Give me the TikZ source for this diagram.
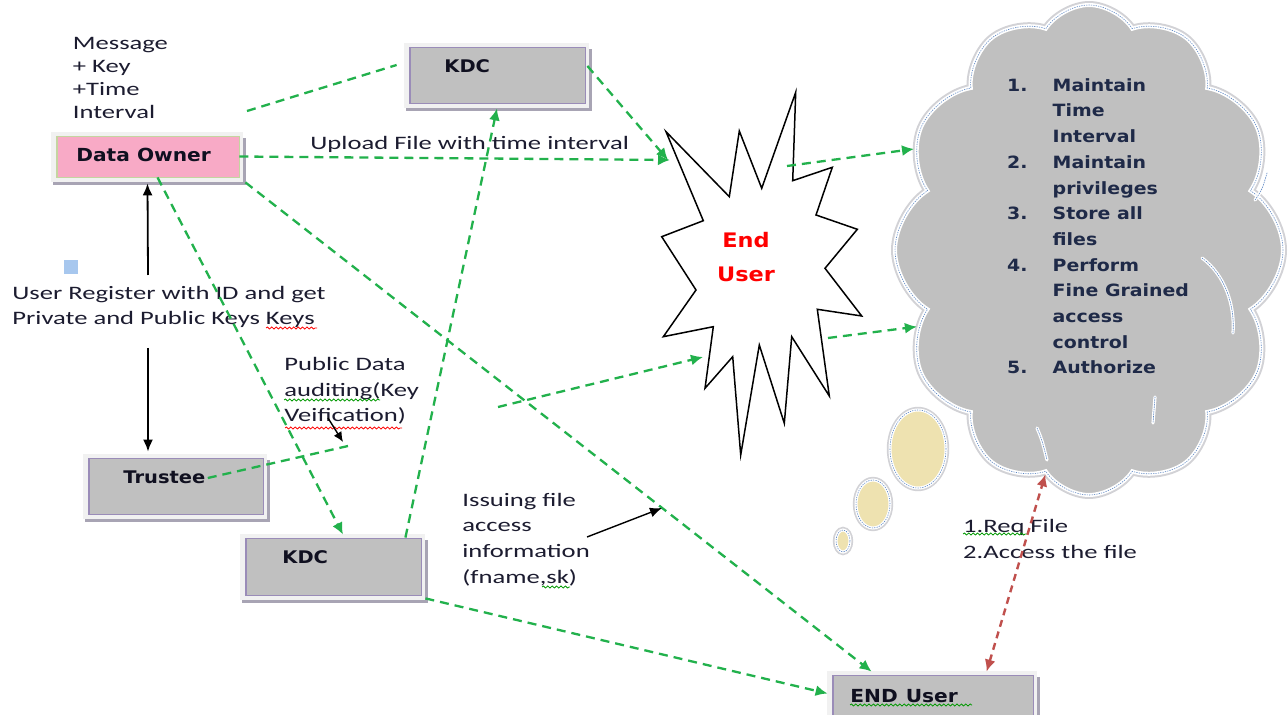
\documentclass[tikz,border=0pt]{standalone}
\usepackage{fontspec}
\setmainfont[FakeStretch=1.4]{Carlito}
\newfontfamily\vb[FakeStretch=1.12]{DejaVu Sans}
\usetikzlibrary{shapes.symbols,shapes.geometric,arrows.meta,fit,decorations.pathmorphing}
\definecolor{grn}{HTML}{22B14C}
\definecolor{redc}{HTML}{C0504D}
\definecolor{txtc}{HTML}{1C1C30}
\definecolor{labc}{HTML}{101020}
\definecolor{cltxt}{HTML}{1F2A48}
\definecolor{boxgray}{HTML}{C0C0C0}
\definecolor{pinkc}{HTML}{F8AAC6}
\definecolor{framec}{HTML}{F1F1F1}
\definecolor{shadowc}{HTML}{A8A4B4}
\definecolor{purpc}{HTML}{9A8CB8}
\definecolor{greenedge}{HTML}{C5D4A0}
\definecolor{beige}{HTML}{EEE2B0}
\definecolor{ringc}{HTML}{D2D2D6}
\definecolor{dotblue}{HTML}{5B86C4}
\definecolor{sqblue}{HTML}{A7C7EE}
\newcommand\kbox[7]{%
  \fill[shadowc] (#2-3,#3+2) rectangle (#4+7,#5+8);
  \fill[framec] (#2-5,#3-4) rectangle (#4+4,#5+5);
  \node[fit={(#2,#3)(#4,#5)}, inner sep=0, fill=#6, draw=#7, line width=0.4pt] (#1) {};
  \draw[#7, line width=0.9pt] (#2+0.8,#3) -- (#2+0.8,#5);
}
\newcommand\numbx[1]{\makebox[22.8pt][l]{#1}}
\tikzset{
  gline/.style={draw=grn, line width=1.15pt, dash pattern=on 4.5pt off 3pt},
  garrow/.style={gline, -{Latex[length=6pt,width=5.5pt]}},
  rarrow/.style={draw=redc, line width=1.2pt, dash pattern=on 3.5pt off 2.5pt, {Latex[length=6pt,width=5.5pt]}-{Latex[length=6pt,width=5.5pt]}},
  barrow/.style={draw=black, line width=0.9pt, -{Latex[length=6pt,width=5pt]}},
  txt/.style={inner sep=0, anchor=base west, align=left, text=txtc},
  blab/.style={inner sep=0, anchor=base west, text=labc, font=\vb\bfseries\fontsize{8.7}{10}\selectfont},
  squig/.style={decorate, decoration={snake, amplitude=0.5pt, segment length=2.2pt}, line width=0.4pt},
  bubble/.style={ellipse, inner sep=0, fill=beige, draw=white, line width=1.5pt,
     preaction={draw=ringc, line width=3.2pt}, postaction={draw=dotblue, dash pattern=on 0.6pt off 0.6pt, line width=0.3pt}},
  cloudarc/.style={draw=white, line width=1.6pt, line cap=round, postaction={draw=dotblue, dash pattern=on 0.6pt off 0.6pt, line width=0.3pt}},
}
\begin{document}
\begin{tikzpicture}[x=0.5pt,y=-0.5pt]
\useasboundingbox (0,0) rectangle (1288,715);
\clip (0,0) rectangle (1288,715);
\fill[white] (0,0) rectangle (1288,715);

% cloud and bubbles
\node[cloud, cloud puffs=12, cloud puff arc=115, cloud ignores aspect, minimum width=194pt, minimum height=245pt,
  fill=boxgray, draw=white, line width=2pt, preaction={draw=ringc, line width=4pt},
  postaction={draw=dotblue, dash pattern=on 0.6pt off 0.6pt, line width=0.3pt}, inner sep=0] (cloud) at (1089,250) {};
\draw[cloudarc] (1202,258) .. controls (1225,275) and (1235,305) .. (1233,333);
\draw[cloudarc] (1255,200) .. controls (1262,190) .. (1267,173);
\draw[cloudarc] (1037,428) .. controls (1042,440) .. (1047,460);
\draw[cloudarc] (1155,397) -- (1153,423);
\node[bubble, minimum width=28pt, minimum height=39pt] (b1) at (918,449) {};
\node[bubble, minimum width=17pt, minimum height=24pt] (b2) at (873,504) {};
\node[bubble, minimum width=7pt, minimum height=11pt] (b3) at (843,541) {};
\node[inner sep=0, anchor=base west, align=left, text=cltxt, font=\vb\bfseries\fontsize{8.45}{12.85}\selectfont] (list) at (1006.7,374)
 {\numbx{1.}Maintain\\\numbx{}Time\\\numbx{}Interval\\\numbx{2.}Maintain\\\numbx{}privileges\\\numbx{3.}Store all\\\numbx{}files\\\numbx{4.}Perform\\\numbx{}Fine Grained\\\numbx{}access\\\numbx{}control\\\numbx{5.}Authorize};

% star
\draw[black, line width=0.75pt, fill=white, line join=miter] (666,131.7) -- (729.3,196.7) -- (739.3,131) -- (761.7,188.3) -- (795.7,92.3) -- (792.7,180.7) -- (832.3,167.3) -- (816,215) -- (857.3,229.3) -- (825,268.3) -- (861.7,316) -- (817.3,309.3) -- (829.3,396) -- (791.7,336.7) -- (784.3,423.3) -- (759.3,345) -- (740.7,455) -- (732.7,356.7) -- (705,388.3) -- (713.3,326.7) -- (663.3,336.7) -- (696,290) -- (661.7,236.7) -- (703.3,220.7) -- cycle;
\node[inner sep=0, anchor=base, align=center, text=red, font=\vb\bfseries\fontsize{10}{16.85}\selectfont] (eu) at (746,281.7) {End\\User};

% boxes
\kbox{own}{56}{136}{239}{177}{pinkc}{greenedge}
\kbox{kdc1}{409}{47}{585}{103}{boxgray}{purpc}
\kbox{tru}{88}{458}{263}{514}{boxgray}{purpc}
\kbox{kdc2}{245}{538}{421}{595}{boxgray}{purpc}
\kbox{endu}{832}{675}{1033}{740}{boxgray}{purpc}
\node[blab, font=\vb\bfseries\fontsize{9}{10}\selectfont] (ownt) at (76,162) {Data Owner};
\node[blab] (k1t) at (444,73) {KDC};
\node[blab] (trt) at (123,483) {Trustee};
\node[blab] (k2t) at (282,563) {KDC};
\node[blab, font=\vb\bfseries\fontsize{9}{10}\selectfont] (eut) at (850,702) {END\hspace{4pt}User};

% blue square
\fill[sqblue] (64,260) rectangle (78,274);

% texts (anchored at the baseline of the last line)
\node[txt, font=\fontsize{9.5}{11.6}\selectfont] (msg) at (72.5,119) {Message\\+ Key\\+Time\\Interval};
\node[txt, font=\fontsize{9.5}{11}\selectfont] (upl) at (310,150) {Upload File with time interval};
\node[txt, font=\fontsize{9.5}{12.5}\selectfont] (reg) at (12,325) {User Register with ID and get\\Private and Public Keys Keys};
\node[txt, font=\fontsize{9.5}{12.75}\selectfont] (pda) at (284,422) {Public Data\\auditing(Key\\Veification)};
\node[txt, font=\fontsize{9.5}{12.8}\selectfont] (iss) at (462,583) {Issuing file\\access\\information\\(fname,sk)};
\node[txt, font=\fontsize{9.5}{13}\selectfont] (req) at (962.7,558) {1.Req File\\2.Access the file};

% squiggles
\draw[squig, red] (266,328) -- (317,328);
\draw[squig, red] (285,428) -- (402,428);
\draw[squig, green!60!black] (284,400) -- (380,400);
\draw[squig, green!60!black] (542,587) -- (570,587);
\draw[squig, green!60!black] (963,534) -- (1027,534);
\draw[squig, green!60!black] (850,705) -- (972,705);

% named free ends
\coordinate (m1) at (247,111);
\coordinate (s1) at (670,160);
\coordinate (s1b) at (668,160);
\coordinate (f1) at (498,407);
\coordinate (s2) at (703,357);
\coordinate (s3) at (787,166);
\coordinate (s4) at (828,338);
\coordinate (pd) at (348,446);
\coordinate (u1) at (148,275);
\coordinate (u2) at (148,348);
\coordinate (a1) at (328,418);
\coordinate (a2) at (343,442);
\coordinate (i1) at (587,537);
\coordinate (i2) at (662,508);

% green connectors
\draw[gline] (m1) -- ([shift={(-6pt,5pt)}]kdc1.west);
\draw[garrow] (own.east) -- (s1);
\draw[garrow] ([shift={(1pt,4.5pt)}]kdc1.east) -- (s1b);
\draw[garrow] ([xshift=-8pt]kdc2.north east) -- ([yshift=-2.5pt]kdc1.south);
\draw[garrow] ([xshift=5pt]own.south) -- ([shift={(5pt,1.5pt)}]kdc2.north);
\draw[garrow] ([shift={(3pt,-2.5pt)}]own.south east) -- ([shift={(20pt,1.5pt)}]endu.north west);
\draw[garrow] (f1) -- (s2);
\draw[garrow] (s3) -- (cloud.150);
\draw[garrow] (s4) -- (cloud.204);
\draw[garrow] ([shift={(2pt,-1.5pt)}]kdc2.south east) -- ([shift={(-2pt,7pt)}]endu.west);
\draw[gline] ([shift={(1pt,2.5pt)}]trt.base east) -- (pd);
\draw[rarrow] ([shift={(77.5pt,1.5pt)}]endu.north west) -- (cloud.259);

% black arrows
\draw[barrow] (u1) -- ([yshift=-3pt]own.south);
\draw[barrow] (u2) -- ([shift={(-13.75pt,3pt)}]tru.north);
\draw[barrow, line width=0.7pt, -{Latex[length=5pt,width=4.5pt]}] (a1) -- (a2);
\draw[barrow, line width=0.7pt] (i1) -- (i2);
\end{tikzpicture}
\end{document}
